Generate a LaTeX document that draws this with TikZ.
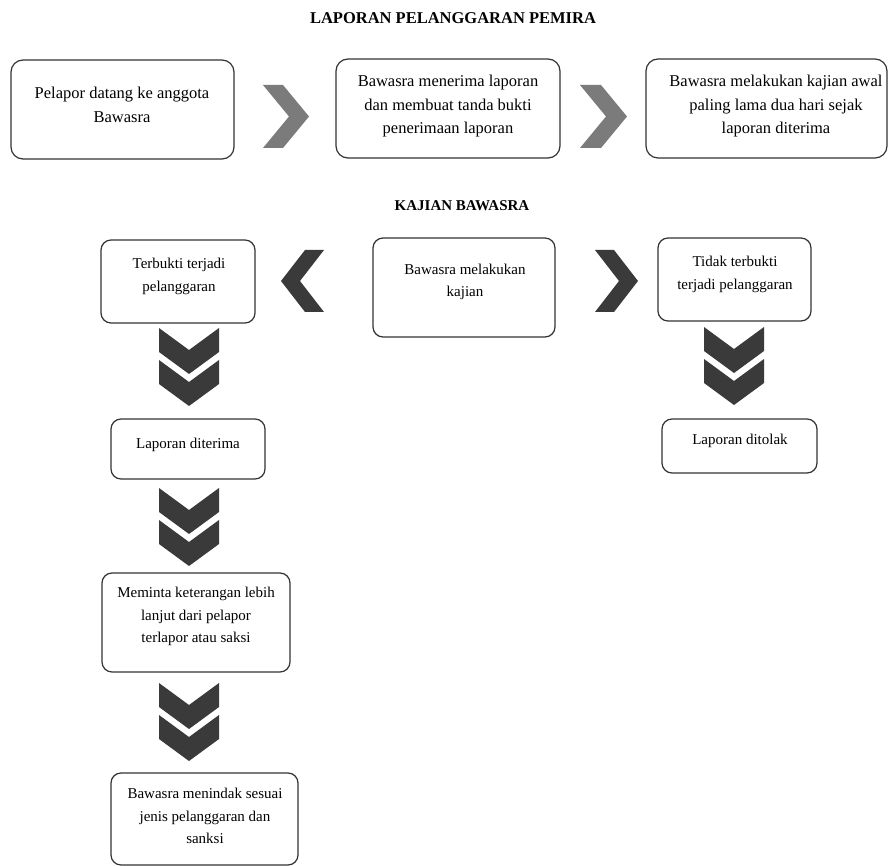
\documentclass[tikz,border=0pt]{standalone}
\usepackage{fontspec}
\setmainfont{Liberation Serif}
\definecolor{boxline}{HTML}{333333}
\definecolor{chevgray}{HTML}{7B7B7B}
\definecolor{chevdark}{HTML}{3A3A3A}
\definecolor{txtcol}{HTML}{000000}
\tikzset{
  flowbox/.style={draw=boxline, line width=1.2pt, rounded corners=12pt, fill=white, inner sep=0pt},
  lowbox/.style={flowbox, rounded corners=10pt},
  toptext/.style={align=center, text=txtcol, inner sep=0pt, font=\fontsize{16.5}{23.5}\selectfont},
  lowtext/.style={align=center, text=txtcol, inner sep=0pt, font=\fontsize{15}{22.5}\selectfont},
  heading/.style={text=txtcol, inner sep=0pt, font=\bfseries\fontsize{16.5}{20}\selectfont},
  heading2/.style={text=txtcol, inner sep=0pt, font=\bfseries\fontsize{15}{20}\selectfont},
  pics/rchev/.style n args={3}{code={
    \path[pic actions] (0,0) -- (#1-#3,0) -- (#1,#2/2) -- (#1-#3,#2) -- (0,#2) -- (#3,#2/2) -- cycle;}},
  pics/lchev/.style n args={3}{code={
    \path[pic actions] (#1,0) -- (#3,0) -- (0,#2/2) -- (#3,#2) -- (#1,#2) -- (#1-#3,#2/2) -- cycle;}},
  pics/ddchev/.style={code={
    \path[pic actions] (-30,0) -- (0,22) -- (30,0) -- (30,24) -- (0,46) -- (-30,24) -- cycle;
    \path[pic actions] (-30,32) -- (0,54) -- (30,32) -- (30,56) -- (0,78) -- (-30,56) -- cycle;}},
}
\begin{document}
\begin{tikzpicture}[x=1pt,y=-1pt]
\useasboundingbox[fill=white] (0,0) rectangle (889,866);

% headings
\node[heading] (title) at (453,18) {LAPORAN PELANGGARAN PEMIRA};
\node[heading2] (kajian) at (462,206) {KAJIAN BAWASRA};

% top row boxes
\node[flowbox, minimum width=223pt, minimum height=99pt] (b1) at (122.5,109.5) {};
\node[flowbox, minimum width=224pt, minimum height=99pt] (b2) at (448,108.5) {};
\node[flowbox, minimum width=241pt, minimum height=99pt] (b3) at (766.5,108.5) {};
\node[toptext] (t1) at (122,105) {Pelapor datang ke anggota\\Bawasra};
\node[toptext] (t2) at (448,106.5) {Bawasra menerima laporan\\dan membuat tanda bukti\\penerimaan laporan};
\node[toptext] (t3) at (776,106.5) {Bawasra melakukan kajian awal\\paling lama dua hari sejak\\laporan diterima};

% top chevrons
\pic[fill=chevgray] at (263,85) {rchev={46}{63}{26}};
\pic[fill=chevgray] at (580,85) {rchev={47}{63}{26}};

% kajian row
\node[lowbox, minimum width=154pt, minimum height=83pt] (b4) at (178,281.5) {};
\node[lowbox, minimum width=182pt, minimum height=99pt] (b5) at (464,287.5) {};
\node[lowbox, minimum width=153pt, minimum height=83pt] (b6) at (734.5,279.5) {};
\node[lowtext] (t4) at (179,276.5) {Terbukti terjadi\\pelanggaran};
\node[lowtext] (t5) at (465,282) {Bawasra melakukan\\kajian};
\node[lowtext] (t6) at (735,274.5) {Tidak terbukti\\terjadi pelanggaran};

\pic[fill=chevdark] at (281,250) {lchev={43}{62}{24}};
\pic[fill=chevdark] at (595,250) {rchev={43}{62}{24}};

% left column
\pic[fill=chevdark] at (189,328) {ddchev};
\node[lowbox, minimum width=154pt, minimum height=60pt] (b7) at (188,449) {};
\node[lowtext] (t7) at (188,445) {Laporan diterima};
\pic[fill=chevdark] at (189,488) {ddchev};
\node[lowbox, minimum width=188pt, minimum height=99pt] (b9) at (196,622.5) {};
\node[lowtext] (t9) at (196,616.5) {Meminta keterangan lebih\\lanjut dari pelapor\\terlapor atau saksi};
\pic[fill=chevdark] at (189,683) {ddchev};
\node[lowbox, minimum width=187pt, minimum height=92pt] (b10) at (204.5,819) {};
\node[lowtext] (t10) at (205,816) {Bawasra menindak sesuai\\jenis pelanggaran dan\\sanksi};

% right column
\pic[fill=chevdark] at (734,327) {ddchev};
\node[lowbox, minimum width=155pt, minimum height=54pt] (b8) at (739.5,446) {};
\node[lowtext] (t8) at (740,441) {Laporan ditolak};
\end{tikzpicture}
\end{document}
